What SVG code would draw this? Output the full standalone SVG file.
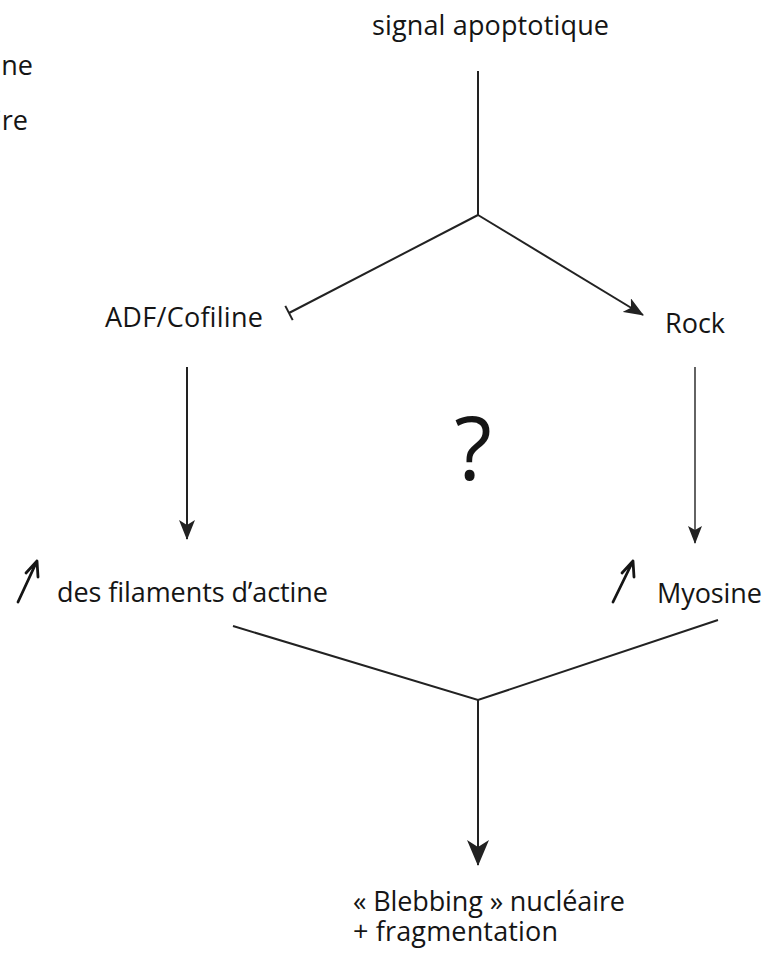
<svg xmlns="http://www.w3.org/2000/svg" width="775" height="957" viewBox="0 0 775 957">
<style>
text{font-family:"Open Sans","Noto Sans","Liberation Sans",sans-serif;font-size:27px;fill:#151515}
.ln{stroke:#222;stroke-width:2;fill:none}
.thin{stroke:#222;stroke-width:1.4;fill:none}
.up{stroke:#151515;stroke-width:2.8;fill:none;stroke-linecap:round;stroke-linejoin:round}
</style>
<defs>
<marker id="ah" markerUnits="userSpaceOnUse" viewBox="0 0 20 16" refX="19" refY="8" markerWidth="20" markerHeight="16" orient="auto">
<path d="M0,0 L20,8 L0,16 L5,8 z" fill="#222"/>
</marker>
<marker id="ahs" markerUnits="userSpaceOnUse" viewBox="0 0 18 14" refX="17" refY="7" markerWidth="18" markerHeight="14" orient="auto">
<path d="M0,0 L18,7 L0,14 L4,7 z" fill="#222"/>
</marker>
<marker id="ahb" markerUnits="userSpaceOnUse" viewBox="0 0 26 22" refX="25" refY="11" markerWidth="26" markerHeight="22" orient="auto">
<path d="M0,0 L26,11 L0,22 L7,11 z" fill="#222"/>
</marker>
</defs>
<g id="cut-labels">
<text x="33" y="75" text-anchor="end">ine</text>
<text x="28" y="130" text-anchor="end">ire</text>
</g>
<g id="signal"><text x="372" y="35" textLength="237">signal apoptotique</text></g>
<g id="adf"><text x="105" y="327" textLength="158">ADF/Cofiline</text></g>
<g id="rock"><text x="665" y="333" textLength="60">Rock</text></g>
<g id="question"><text x="473" y="480" text-anchor="middle" style="font-size:87px">?</text></g>
<g id="actine">
<path class="up" d="M18,602 L37,561 M26,573 L37,561 L38,577"/>
<text x="57" y="602" textLength="271">des filaments d’actine</text>
</g>
<g id="myosine">
<path class="up" d="M613,602 L633,561 M622,573 L633,561 L634,577"/>
<text x="657" y="603" textLength="105">Myosine</text>
</g>
<g id="blebbing">
<text x="353" y="911" textLength="272">« Blebbing » nucléaire</text>
<text x="353" y="941" textLength="205">+ fragmentation</text>
</g>
<g id="connectors">
<line class="ln" x1="478" y1="71" x2="478" y2="215"/>
<line class="ln" x1="478" y1="215" x2="289" y2="313"/>
<line class="ln" x1="285.3" y1="305.9" x2="292.7" y2="320.1"/>
<line class="ln" x1="478" y1="215" x2="643" y2="315" marker-end="url(#ah)"/>
<line class="ln" x1="187" y1="367" x2="187" y2="539" marker-end="url(#ah)"/>
<line class="thin" x1="695" y1="367" x2="695" y2="543" marker-end="url(#ahs)"/>
<polyline class="ln" points="233,626 478,700 718,620"/>
<line class="ln" x1="478" y1="700" x2="478" y2="865" marker-end="url(#ahb)"/>
</g>
</svg>
